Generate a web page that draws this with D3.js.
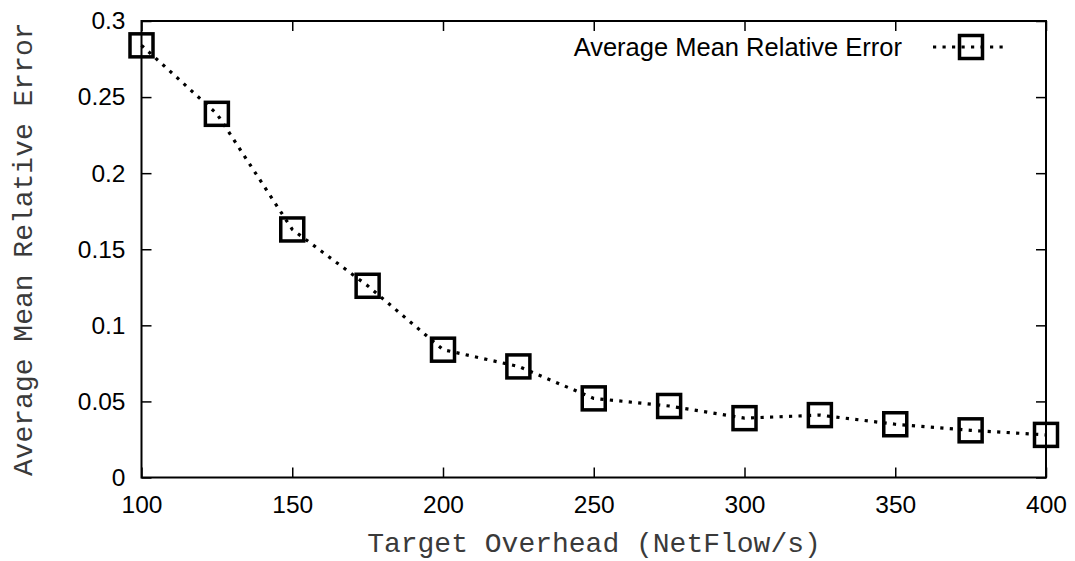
<!DOCTYPE html>
<html>
<head>
<meta charset="utf-8">
<script src="https://cdn.jsdelivr.net/npm/d3@7"></script>
<style>
  html, body { margin: 0; padding: 0; background: #fff; }
  svg { display: block; }
</style>
</head>
<body>
<svg id="chart" width="1075" height="561"></svg>
<script>
// Target overhead (NetFlow records per second) and the resulting error
const overhead = [100, 125, 150, 175, 200, 225, 250, 275, 300, 325, 350, 375, 400];
const meanRelError = [0.284, 0.239, 0.163, 0.126, 0.084, 0.073, 0.052, 0.047, 0.039, 0.041, 0.035, 0.031, 0.028];
const xTicks = [100, 150, 200, 250, 300, 350, 400];
const yTicks = [0, 0.05, 0.1, 0.15, 0.2, 0.25, 0.3];
const seriesName = "Average Mean Relative Error";
const xTitle = "Target Overhead (NetFlow/s)";
const yTitle = "Average Mean Relative Error";

const svg = d3.select("#chart");
const m = { left: 141.5, right: 1046, top: 21, bottom: 477.5 };

const x = d3.scaleLinear().domain([100, 400]).range([m.left, m.right]);
const y = d3.scaleLinear().domain([0, 0.3]).range([m.bottom, m.top]);

const sans = "'Liberation Sans', Arial, Helvetica, sans-serif";
const mono = "'Liberation Mono', 'Courier New', monospace";
const tickLen = 10;

// Bottom and left axes with mirrored inward ticks on top and right
const axisStyle = g => {
  g.select(".domain").remove();
  g.selectAll(".tick line").attr("stroke", "#000").attr("stroke-width", 1.5);
  g.selectAll(".tick text").attr("font-family", sans).attr("font-size", 24.5).attr("fill", "#000");
};

svg.append("g")
  .attr("transform", `translate(0,${m.bottom})`)
  .call(d3.axisBottom(x).tickValues(xTicks).tickSize(-tickLen).tickPadding(18).tickFormat(d3.format("d")))
  .call(axisStyle);

svg.append("g")
  .attr("transform", `translate(0,${m.top})`)
  .call(d3.axisTop(x).tickValues(xTicks).tickSize(-tickLen).tickFormat(""))
  .call(axisStyle);

svg.append("g")
  .attr("transform", `translate(${m.left},0)`)
  .call(d3.axisLeft(y).tickValues(yTicks).tickSize(-tickLen).tickPadding(16).tickFormat(d => d === 0 ? "0" : String(+d.toFixed(2))))
  .call(axisStyle);

svg.append("g")
  .attr("transform", `translate(${m.right},0)`)
  .call(d3.axisRight(y).tickValues(yTicks).tickSize(-tickLen).tickFormat(""))
  .call(axisStyle);

// Plot frame
svg.append("rect")
  .attr("x", m.left).attr("y", m.top)
  .attr("width", m.right - m.left).attr("height", m.bottom - m.top)
  .attr("fill", "none").attr("stroke", "#000").attr("stroke-width", 2);

// Dotted series line
const line = d3.line().x((d, i) => x(overhead[i])).y(d => y(d));
svg.append("path")
  .datum(meanRelError)
  .attr("d", line)
  .attr("fill", "none")
  .attr("stroke", "#000")
  .attr("stroke-width", 3.2)
  .attr("stroke-dasharray", "3.2,6.3");

// Open square markers
const ms = 23;
svg.append("g").selectAll("rect")
  .data(meanRelError)
  .join("rect")
  .attr("x", (d, i) => x(overhead[i]) - ms / 2)
  .attr("y", d => y(d) - ms / 2)
  .attr("width", ms).attr("height", ms)
  .attr("fill", "none")
  .attr("stroke", "#000")
  .attr("stroke-width", 3.5);

// Legend
const lg = svg.append("g");
lg.append("text")
  .attr("x", 902).attr("y", 56)
  .attr("text-anchor", "end")
  .attr("font-family", sans).attr("font-size", 25.5)
  .text(seriesName);
lg.append("line")
  .attr("x1", 933).attr("x2", 1009).attr("y1", 47).attr("y2", 47)
  .attr("stroke", "#000").attr("stroke-width", 3.2).attr("stroke-dasharray", "3.2,6.3");
lg.append("rect")
  .attr("x", 971 - ms / 2).attr("y", 47 - ms / 2)
  .attr("width", ms).attr("height", ms)
  .attr("fill", "none").attr("stroke", "#000").attr("stroke-width", 3.5);

// Axis titles
svg.append("text")
  .attr("x", 594).attr("y", 552)
  .attr("text-anchor", "middle")
  .attr("font-family", mono).attr("font-size", 28).attr("fill", "#3a3a3a")
  .text(xTitle);

svg.append("text")
  .attr("transform", `translate(32,${(m.top + m.bottom) / 2}) rotate(-90)`)
  .attr("text-anchor", "middle")
  .attr("font-family", mono).attr("font-size", 28).attr("fill", "#3a3a3a")
  .text(yTitle);
</script>
</body>
</html>
